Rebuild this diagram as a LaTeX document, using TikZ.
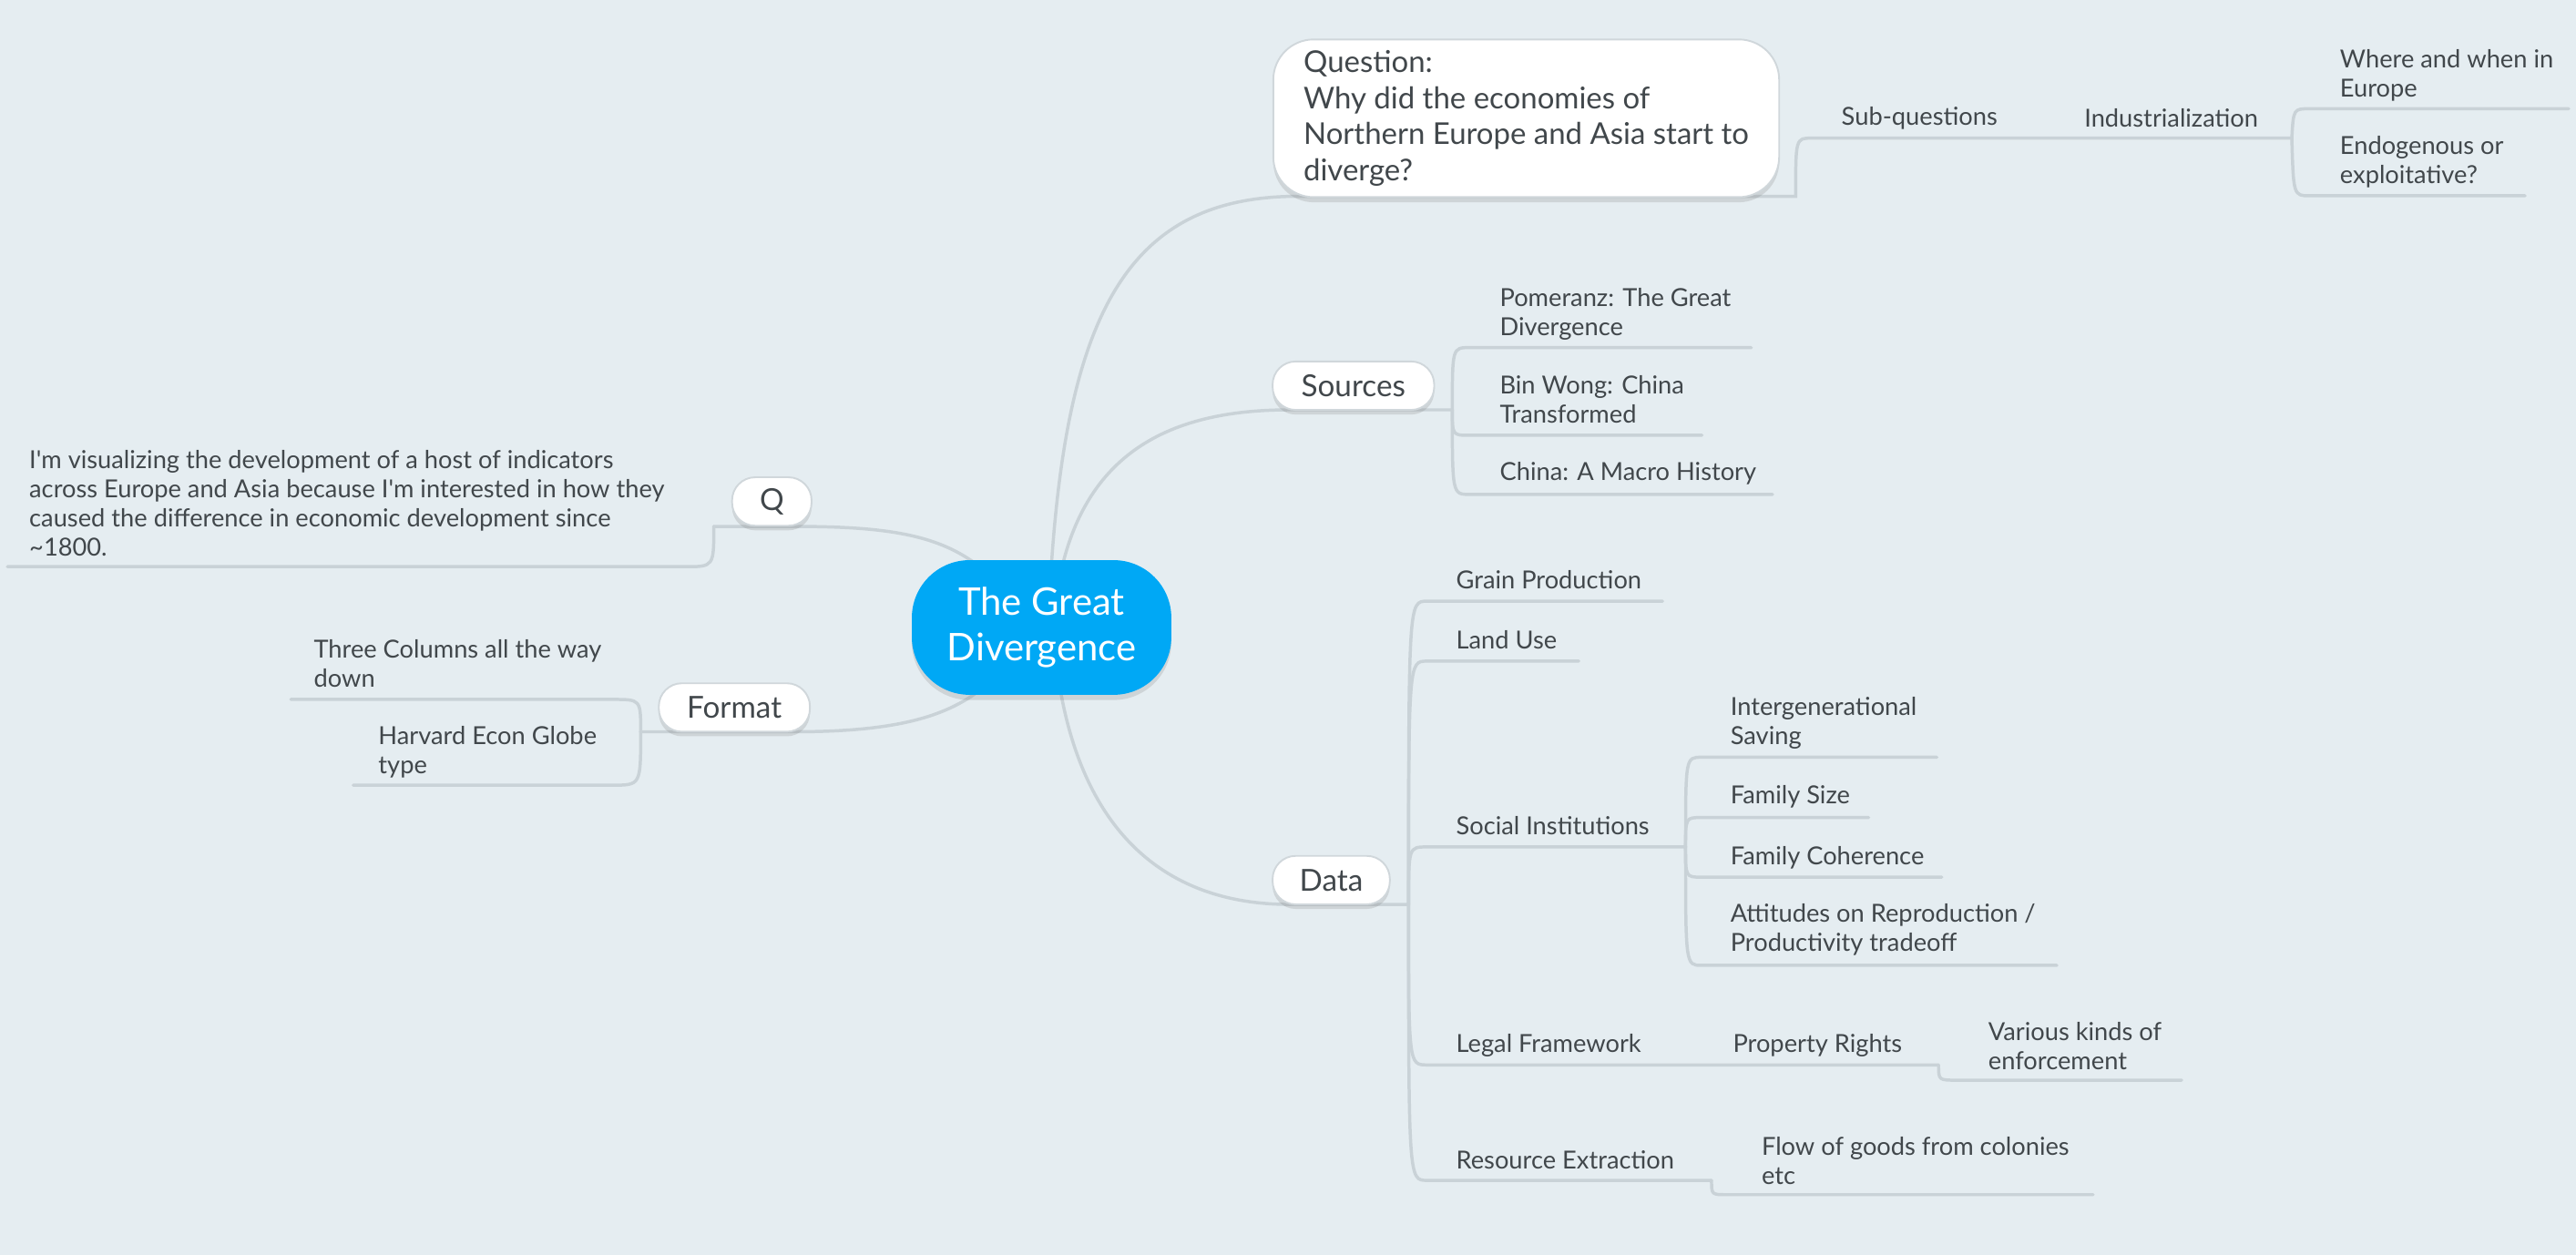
\documentclass[tikz,border=0pt]{standalone}
\usepackage{fontspec}
\setmainfont{Lato}
\newfontfamily\lato{Lato}
\usetikzlibrary{shadows}
\definecolor{bgc}{HTML}{E5EDF1}
\definecolor{lnc}{HTML}{C9D2D7}
\definecolor{txtc}{HTML}{41474B}
\definecolor{cenc}{HTML}{00A8F5}
\definecolor{bordc}{HTML}{D0D7DB}
\pgfdeclarelayer{bgl}
\pgfdeclarelayer{lnl}
\pgfsetlayers{bgl,lnl,main}
\begin{document}
\begin{tikzpicture}[x=0.02cm,y=-0.02cm,
  conn/.style={draw=lnc,line width=1.1pt,line cap=round},
  leaf/.style={anchor=west,align=left,text=txtc,font=\lato\fontsize{8.6}{10.1}\selectfont,inner sep=0pt},
  topic/.style={draw=bordc,fill=white,rounded corners=8pt,text=txtc,font=\lato\fontsize{10.5}{12}\selectfont,inner sep=0pt,minimum height=0.59cm,line width=0.6pt,
    drop shadow={opacity=0.18,shadow xshift=0pt,shadow yshift=-1.6pt,fill=black!60}},
  central/.style={fill=cenc,text=white,rounded corners=20pt,minimum width=3.16cm,minimum height=1.64cm,align=center,inner sep=0pt,
    font=\lato\fontsize{13.2}{15.8}\selectfont,drop shadow={opacity=0.18,shadow xshift=0pt,shadow yshift=-1.8pt,fill=black!60}},
  qbox/.style={draw=bordc,fill=white,rounded corners=14pt,minimum width=6.16cm,inner sep=0pt,minimum height=1.92cm,align=left,
    text=txtc,font=\lato\fontsize{10.4}{12.5}\selectfont,line width=0.6pt,drop shadow={opacity=0.18,shadow xshift=0pt,shadow yshift=-1.8pt,fill=black!60}}
]
\useasboundingbox (0,0) rectangle (1568,764);
\begin{pgfonlayer}{bgl}
\fill[bgc] (0,0) rectangle (1568,764);
\end{pgfonlayer}

% main nodes
\node[central] (cen) at (634,382) {The Great\\Divergence};
\node[qbox] (ques) at (929,72) {Question:\\Why did the economies of\\Northern Europe and Asia start to\\diverge?};
\node[topic,minimum width=1.968cm] (src) at (823.8,234.8) {Sources};
\node[topic,minimum width=1.428cm] (data) at (810.3,535.8) {Data};
\node[topic,minimum width=1.84cm] (fmt) at (447,430.7) {Format};
\node[topic,minimum width=0.968cm] (q) at (469.8,305.3) {Q};

% leaf texts
\node[leaf] (qtext) at (17.5,306.4) {I'm visualizing the development of a host of indicators\\across Europe and Asia because I'm interested in how they\\caused the difference in economic development since\\\textasciitilde1800.};
\node[leaf] (three) at (190.7,404) {Three Columns all the way\\down};
\node[leaf] (harv) at (230,458) {Harvard Econ Globe\\type};
\node[leaf] (pom) at (912.6,191) {Pomeranz: The Great\\Divergence};
\node[leaf] (bin) at (912.6,243.3) {Bin Wong: China\\Transformed};
\node[leaf] (macro) at (912.6,288) {China: A Macro History};
\node[leaf] (grain) at (886,353) {Grain Production};
\node[leaf] (land) at (886,389.8) {Land Use};
\node[leaf] (social) at (886,502.7) {Social Institutions};
\node[leaf] (inter) at (1053,440) {Intergenerational\\Saving};
\node[leaf] (fsize) at (1053,485) {Family Size};
\node[leaf] (fcoh) at (1053,522) {Family Coherence};
\node[leaf] (att) at (1053,566) {Attitudes on Reproduction /\\Productivity tradeoff};
\node[leaf] (legal) at (886,636.7) {Legal Framework};
\node[leaf] (prop) at (1054.5,636.7) {Property Rights};
\node[leaf] (var) at (1210,636.7) {Various kinds of\\enforcement};
\node[leaf] (res) at (886,706) {Resource Extraction};
\node[leaf] (flow) at (1072,706.5) {Flow of goods from colonies\\etc};
\node[leaf] (subq) at (1120.6,72.1) {Sub-questions};
\node[leaf] (ind) at (1268.4,72.1) {Industrialization};
\node[leaf] (where) at (1424,46) {Where and when in\\Europe};
\node[leaf] (endo) at (1424,98.7) {Endogenous or\\exploitative?};

% connection points
\coordinate (cQues) at (638,382);
\coordinate (cSrc) at (641,382);
\coordinate (cData) at (641,382);
\coordinate (cQ) at (620,370);
\coordinate (cFmt) at (620,395);

\coordinate (quesIn) at (790,119.5);
\coordinate (quesOut) at (1093,119.5);
\coordinate (subL) at (1102.7,84.1);
\coordinate (subR) at (1237,84.1);
\coordinate (indR) at (1395,84.1);
\coordinate (whereL) at (1406,66.2);
\coordinate (whereR) at (1563.6,66.2);
\coordinate (endoL) at (1406,119.2);
\coordinate (endoR) at (1537,119.2);

\coordinate (srcIn) at (785,249.5);
\coordinate (srcOut) at (884,249.5);
\coordinate (pomL) at (894.5,211.6);
\coordinate (pomR) at (1066,211.6);
\coordinate (binL) at (894.5,265);
\coordinate (binR) at (1036,265);
\coordinate (macL) at (894.5,301);
\coordinate (macR) at (1079,301);

\coordinate (dataIn) at (785,550.6);
\coordinate (dataOut) at (857.4,550.6);
\coordinate (grainL) at (868.6,366);
\coordinate (grainR) at (1012,366);
\coordinate (landL) at (868.6,402.5);
\coordinate (landR) at (961,402.5);
\coordinate (socL) at (868.6,515.6);
\coordinate (socOut) at (1026,515.6);
\coordinate (interL) at (1035.7,461);
\coordinate (interR) at (1179,461);
\coordinate (fsL) at (1035.7,497.7);
\coordinate (fsR) at (1137.5,497.7);
\coordinate (fcL) at (1035.7,534);
\coordinate (fcR) at (1182,534);
\coordinate (attL) at (1035.7,587.7);
\coordinate (attR) at (1252,587.7);
\coordinate (legL) at (868.6,648.3);
\coordinate (legR) at (1022.6,648.3);
\coordinate (propR) at (1180,648.3);
\coordinate (varL) at (1191,657.6);
\coordinate (varR) at (1328,657.6);
\coordinate (resL) at (868.6,718.6);
\coordinate (resR) at (1041.8,718.6);
\coordinate (flowL) at (1051,727.3);
\coordinate (flowR) at (1274,727.3);

\coordinate (qIn) at (484,320.5);
\coordinate (qOut) at (434.5,320.5);
\coordinate (qtL) at (417,345);
\coordinate (qtR) at (4.5,345);

\coordinate (fmIn) at (483,445.5);
\coordinate (fmOut) at (390,445.5);
\coordinate (thrL) at (373,425.8);
\coordinate (thrR) at (177,425.8);
\coordinate (harL) at (373,478);
\coordinate (harR) at (215,478);

\begin{pgfonlayer}{lnl}
% question branch
\draw[conn] (cQues) .. controls (645,200) and (680,119.5) .. (quesIn) -- (quesOut)
  .. controls (1093,84.1) .. (subL) -- (subR) -- (indR);
\draw[conn] (indR) .. controls (1396,66.2) .. (whereL) -- (whereR);
\draw[conn] (indR) .. controls (1396,119.2) .. (endoL) -- (endoR);
% sources
\draw[conn] (cSrc) .. controls (648,285) and (700,249.5) .. (srcIn) -- (srcOut);
\draw[conn] (srcOut) .. controls (884,211.6) .. (pomL) -- (pomR);
\draw[conn] (srcOut) .. controls (884,265) .. (binL) -- (binR);
\draw[conn] (srcOut) .. controls (884,301) .. (macL) -- (macR);
% data
\draw[conn] (cData) .. controls (648,495) and (700,550.6) .. (dataIn) -- (dataOut);
\draw[conn] (dataOut) .. controls (857.4,366) .. (grainL) -- (grainR);
\draw[conn] (dataOut) .. controls (857.4,402.5) .. (landL) -- (landR);
\draw[conn] (dataOut) .. controls (857.4,515.6) .. (socL) -- (socOut);
\draw[conn] (dataOut) .. controls (857.4,648.3) .. (legL) -- (legR) -- (propR);
\draw[conn] (dataOut) .. controls (857.4,718.6) .. (resL) -- (resR);
\draw[conn] (socOut) .. controls (1026,461) .. (interL) -- (interR);
\draw[conn] (socOut) .. controls (1026,497.7) .. (fsL) -- (fsR);
\draw[conn] (socOut) .. controls (1026,534) .. (fcL) -- (fcR);
\draw[conn] (socOut) .. controls (1026,587.7) .. (attL) -- (attR);
\draw[conn] (propR) .. controls (1180,657.6) .. (varL) -- (varR);
\draw[conn] (resR) .. controls (1041.8,727.3) .. (flowL) -- (flowR);
% Q
\draw[conn] (cQ) .. controls (590,330) and (560,320.5) .. (qIn) -- (qOut);
\draw[conn] (qOut) .. controls (434.5,345) .. (qtL) -- (qtR);
% Format
\draw[conn] (cFmt) .. controls (595,430) and (565,445.5) .. (fmIn) -- (fmOut);
\draw[conn] (fmOut) .. controls (390,425.8) .. (thrL) -- (thrR);
\draw[conn] (fmOut) .. controls (390,478) .. (harL) -- (harR);
\end{pgfonlayer}
\end{tikzpicture}
\end{document}
